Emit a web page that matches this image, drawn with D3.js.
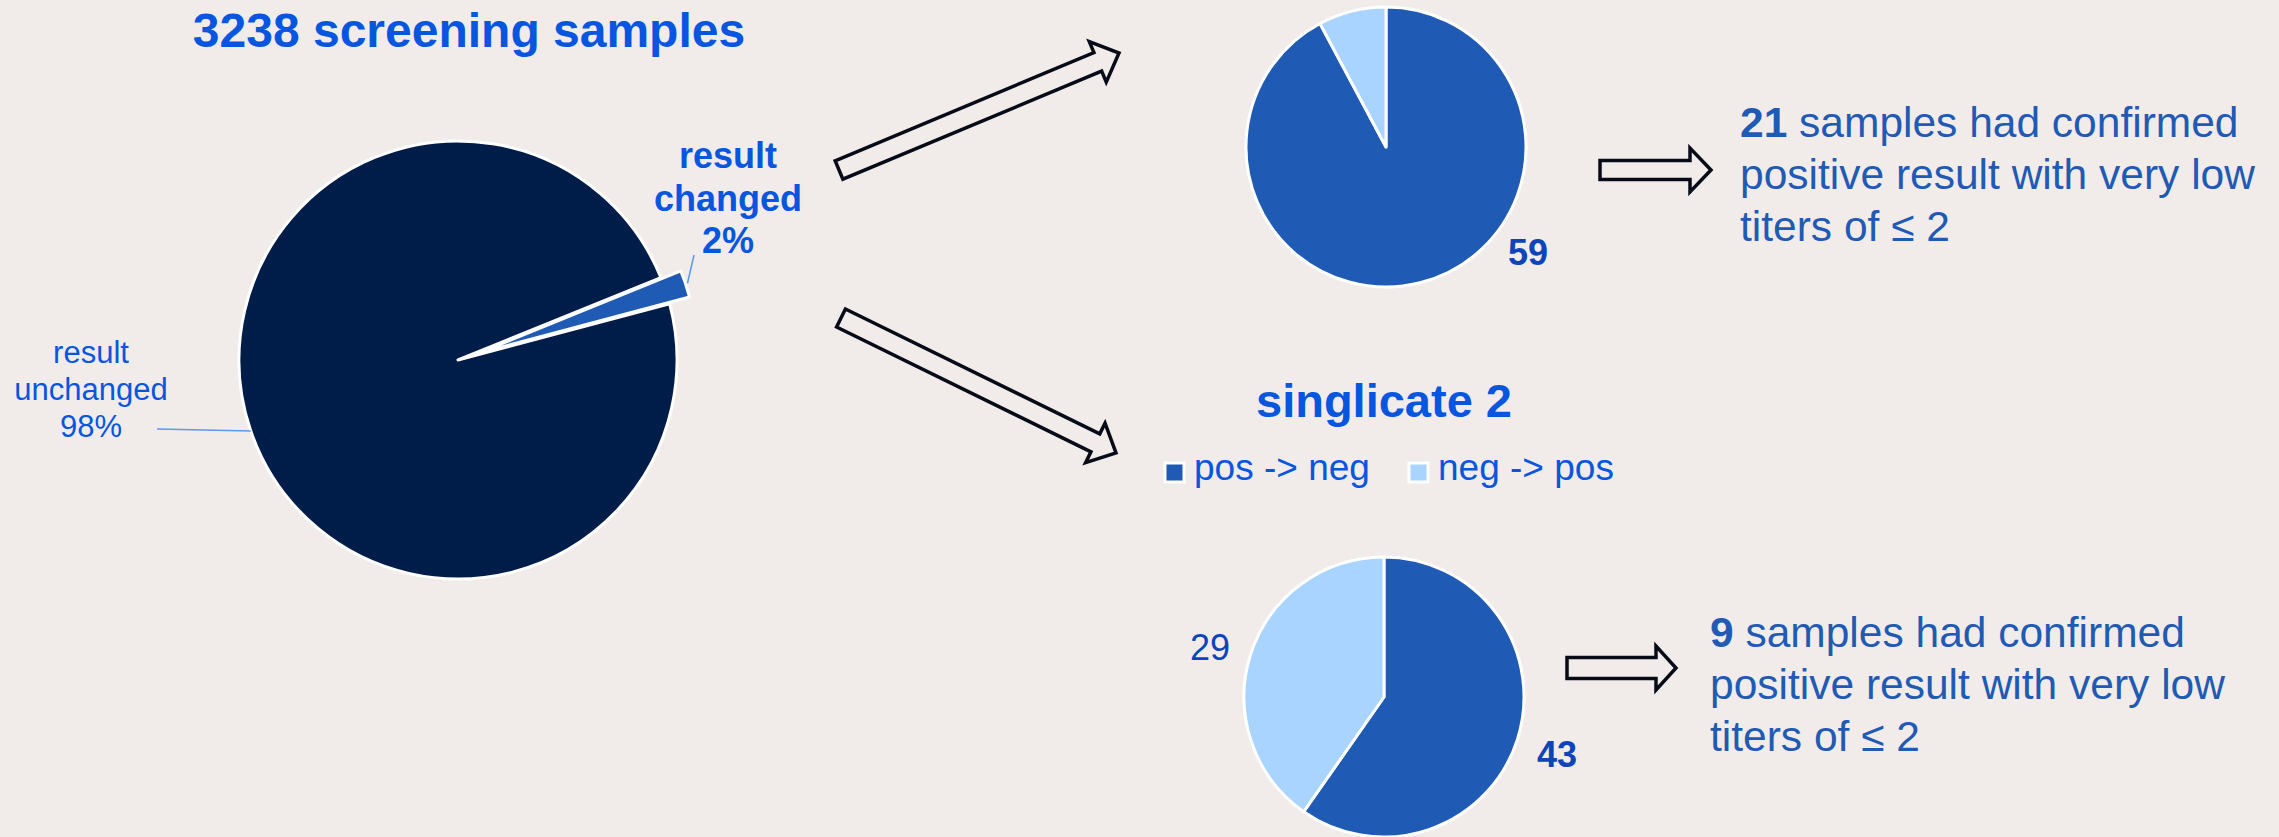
<!DOCTYPE html>
<html>
<head>
<meta charset="utf-8">
<script src="https://cdn.jsdelivr.net/npm/d3@7"></script>
<style>
  html, body { margin: 0; padding: 0; background: #f1ecea; }
  svg { display: block; font-family: "Liberation Sans", Arial, sans-serif; }
</style>
</head>
<body>
<svg width="2279" height="837"></svg>
<script>
// data
var totalSamples = 3238;
var changeCategories = ["result unchanged", "result changed"];
var changeShares = [98, 2];
var directionCategories = ["pos -> neg", "neg -> pos"];
var singlicate1Counts = [59, 5];
var singlicate2Counts = [43, 29];
var confirmedCounts = [21, 9];
var confirmedLines = ["samples had confirmed", "positive result with very low", "titers of \u2264 2"];

var svg = d3.select("svg");
var brightBlue = "#0656df", midBlue = "#1f5ab4", darkNum = "#0b44bb";

var changeColor = d3.scaleOrdinal().domain(changeCategories).range(["#001c49", midBlue]);
var dirColor = d3.scaleOrdinal().domain(directionCategories).range([midBlue, "#a9d4ff"]);

// ---- main pie ----
var mainC = {x: 458, y: 360, r: 219};
var explode = 21;
var bisector = 71.5 * Math.PI / 180;   // where the changed slice sits (clockwise from top)
var frac = changeShares[1] / d3.sum(changeShares);
var rot = bisector + frac * Math.PI;

var mainPie = d3.pie().sort(null).startAngle(rot).endAngle(rot + 2 * Math.PI);
var mainArc = d3.arc().innerRadius(0).outerRadius(mainC.r);
var mainData = mainPie(changeShares);

var gMain = svg.append("g").attr("transform", "translate(" + mainC.x + "," + mainC.y + ")");

gMain.selectAll("path")
  .data(mainData)
  .enter().append("path")
  .attr("d", mainArc)
  .attr("fill", function(d, i) { return changeColor(changeCategories[i]); })
  .attr("stroke", "#fff")
  .attr("stroke-width", 3)
  .attr("stroke-linejoin", "round")
  .attr("transform", function(d, i) {
    if (i === 0) return null;
    var a = (d.startAngle + d.endAngle) / 2;
    return "translate(" + (Math.sin(a) * explode) + "," + (-Math.cos(a) * explode) + ")";
  });

// leader lines
function polar(a, r) { return [Math.sin(a) * r, -Math.cos(a) * r]; }
var chMid = (mainData[1].startAngle + mainData[1].endAngle) / 2;
var p0 = polar(chMid, mainC.r + explode + 2);
gMain.append("line")
  .attr("x1", p0[0]).attr("y1", p0[1])
  .attr("x2", 236).attr("y2", -105)
  .attr("stroke", "#5b98ef").attr("stroke-width", 1.5);

var ua = Math.PI * 1.5 - Math.asin(71 / mainC.r);
var p1 = polar(ua, mainC.r);
gMain.append("line")
  .attr("x1", p1[0]).attr("y1", p1[1])
  .attr("x2", -301).attr("y2", 69)
  .attr("stroke", "#5b98ef").attr("stroke-width", 1.5);

// labels of main pie
var unchLabel = svg.append("text")
  .attr("text-anchor", "middle").attr("fill", brightBlue)
  .attr("font-size", 31);
["result", "unchanged", changeShares[0] + "%"].forEach(function(t, i) {
  unchLabel.append("tspan").attr("x", 91).attr("y", 363 + i * 37).text(t);
});

var chLabel = svg.append("text")
  .attr("text-anchor", "middle").attr("fill", brightBlue)
  .attr("font-size", 36).attr("font-weight", "bold");
["result", "changed", changeShares[1] + "%"].forEach(function(t, i) {
  chLabel.append("tspan").attr("x", 728).attr("y", 168 + i * 42.5).text(t);
});

svg.append("text")
  .attr("x", 469).attr("y", 47)
  .attr("text-anchor", "middle")
  .attr("fill", brightBlue)
  .attr("font-size", 48).attr("font-weight", "bold")
  .text(totalSamples + " screening samples");

// ---- small pies ----
var smallPie = d3.pie().sort(null);
var smallArc = d3.arc().innerRadius(0).outerRadius(140);

function drawSmall(cx, cy, counts) {
  var g = svg.append("g").attr("transform", "translate(" + cx + "," + cy + ")");
  g.selectAll("path")
    .data(smallPie(counts))
    .enter().append("path")
    .attr("d", smallArc)
    .attr("fill", function(d, i) { return dirColor(directionCategories[i]); })
    .attr("stroke", "#fff")
    .attr("stroke-width", 3)
    .attr("stroke-linejoin", "round");
  return g;
}

var g1 = drawSmall(1386, 147, singlicate1Counts);
g1.append("text")
  .attr("x", 142).attr("y", 118)
  .attr("text-anchor", "middle").attr("fill", darkNum)
  .attr("font-size", 36).attr("font-weight", "bold")
  .text(singlicate1Counts[0]);

var g2 = drawSmall(1384, 697, singlicate2Counts);
g2.append("text")
  .attr("x", 173).attr("y", 70)
  .attr("text-anchor", "middle").attr("fill", darkNum)
  .attr("font-size", 36).attr("font-weight", "bold")
  .text(singlicate2Counts[0]);
g2.append("text")
  .attr("x", -174).attr("y", -37)
  .attr("text-anchor", "middle").attr("fill", darkNum)
  .attr("font-size", 36)
  .text(singlicate2Counts[1]);

svg.append("text")
  .attr("x", 1384).attr("y", 417)
  .attr("text-anchor", "middle").attr("fill", brightBlue)
  .attr("font-size", 47).attr("font-weight", "bold")
  .text("singlicate 2");

// legend
var legend = svg.append("g")
  .selectAll("g")
  .data(directionCategories)
  .enter().append("g")
  .attr("transform", function(d, i) { return "translate(" + (1165 + i * 244) + ",463)"; });

legend.append("rect")
  .attr("width", 19).attr("height", 19)
  .attr("fill", dirColor)
  .attr("stroke", "#fff").attr("stroke-width", 3);

legend.append("text")
  .attr("x", 29).attr("y", 17)
  .attr("fill", brightBlue)
  .attr("font-size", 37)
  .text(function(d) { return d; });

// ---- block arrows ----
function blockArrow(x0, y0, x1, y1, bw, hw, hl) {
  var len = Math.hypot(x1 - x0, y1 - y0);
  var ang = Math.atan2(y1 - y0, x1 - x0) * 180 / Math.PI;
  var pts = [[0, -bw / 2], [len - hl, -bw / 2], [len - hl, -hw / 2], [len, 0],
             [len - hl, hw / 2], [len - hl, bw / 2], [0, bw / 2]];
  svg.append("path")
    .attr("d", d3.line()(pts) + "Z")
    .attr("transform", "translate(" + x0 + "," + y0 + ") rotate(" + ang + ")")
    .attr("fill", "none")
    .attr("stroke", "#070b18")
    .attr("stroke-width", 3.5)
    .attr("stroke-linejoin", "miter");
}

blockArrow(839, 170, 1119, 53, 20, 44, 23);
blockArrow(841, 318, 1116, 453, 20, 44, 23);
blockArrow(1600, 170, 1711, 170, 19, 44, 21);
blockArrow(1567, 668, 1676, 668, 21, 44, 20);

// ---- right-hand notes ----
function note(x, y, count) {
  var t = svg.append("text").attr("fill", midBlue).attr("font-size", 42.5);
  confirmedLines.forEach(function(line, i) {
    var ts = t.append("tspan").attr("x", x).attr("y", y + i * 52);
    if (i === 0) {
      ts.append("tspan").attr("font-weight", "bold").text(count);
      ts.append("tspan").text(" " + line);
    } else {
      ts.text(line);
    }
  });
}
note(1740, 137, confirmedCounts[0]);
note(1710, 647, confirmedCounts[1]);
</script>
</body>
</html>
